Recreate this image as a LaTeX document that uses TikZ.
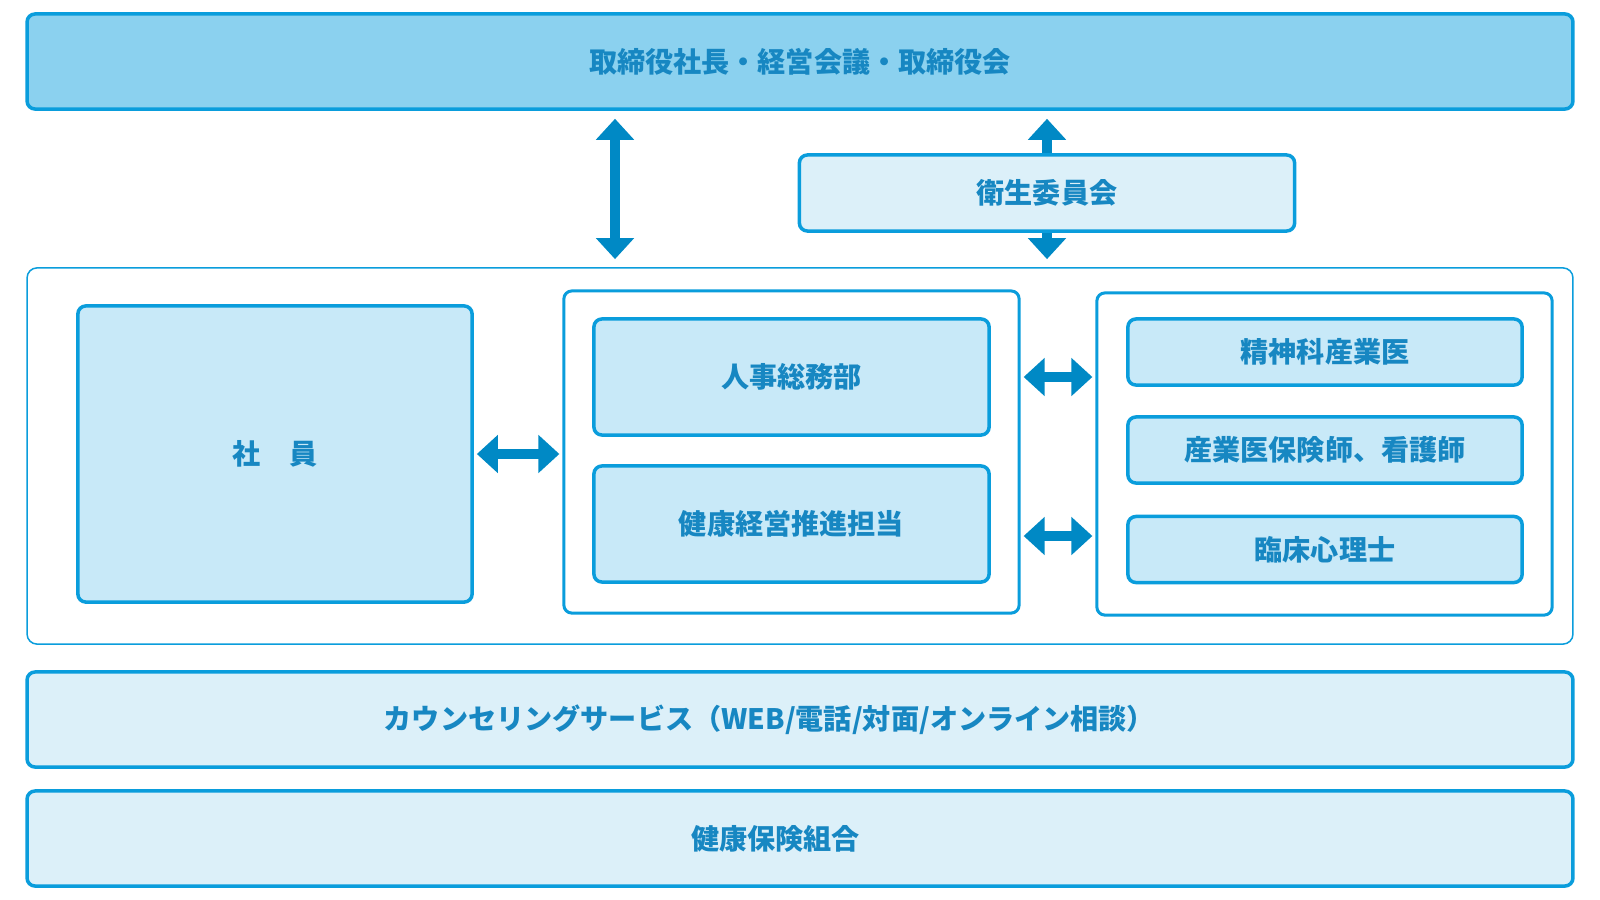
\documentclass[tikz,border=0pt]{standalone}
\usepackage{fontspec}
\setmainfont{Noto Sans CJK JP}
\usetikzlibrary{arrows.meta,backgrounds}
\definecolor{linecol}{HTML}{0A9DDC}
\definecolor{arrowcol}{HTML}{0089C5}
\definecolor{textcol}{HTML}{1787C2}
\definecolor{topfill}{HTML}{8BD1EF}
\definecolor{innerfill}{HTML}{C8E9F8}
\definecolor{lightfill}{HTML}{DCF0F9}

\begin{document}
\begin{tikzpicture}[x=0.01cm,y=-0.01cm,
  box/.style={draw=linecol,line width=0.035cm,rounded corners=0.08cm,
    text=textcol,font=\fontsize{8}{10}\selectfont\bfseries,inner sep=0pt},
  frame/.style={draw=linecol,line width=0.03cm,rounded corners=0.08cm,fill=white},
  wide/.style={box,minimum width=15.45cm,minimum height=0.95cm},
  unit/.style={box,fill=innerfill,minimum width=3.95cm,minimum height=1.16cm},
  staff/.style={box,fill=innerfill,minimum width=3.94cm,minimum height=0.66cm},
  bigarrow/.style={draw=arrowcol,line width=0.1cm,
    {Triangle[width=0.37cm,length=0.21cm]}-{Triangle[width=0.37cm,length=0.21cm]}}]
\useasboundingbox (0,0) rectangle (1600,900);

\node[wide,fill=topfill] (board) at (800,61.5) {取締役社長・経営会議・取締役会};
\node[box,fill=lightfill,minimum width=4.95cm,minimum height=0.76cm] (eisei) at (1047,193) {衛生委員会};

\node[draw=linecol,line width=0.015cm,rounded corners=0.1cm,minimum width=15.45cm,minimum height=3.76cm] (company) at (800,456) {};
\node[box,fill=innerfill,minimum width=3.94cm,minimum height=2.96cm] (shain) at (275,454) {社　員};

\node[frame,minimum width=4.55cm,minimum height=3.22cm] (dept) at (791.5,452) {};
\node[unit] (jinji) at (791.5,377) {人事総務部};
\node[unit] (kenko) at (791.5,524) {健康経営推進担当};

\node[frame,minimum width=4.55cm,minimum height=3.22cm] (medic) at (1324.5,454) {};
\node[staff] (seishin) at (1325,352) {精神科産業医};
\node[staff] (sangyo) at (1325,450) {産業医保険師、看護師};
\node[staff] (rinsho) at (1325,549.5) {臨床心理士};

\node[wide,fill=lightfill] (counsel) at (800,719.5) {カウンセリングサービス（WEB/電話/対面/オンライン相談）\rule{0.61cm}{0pt}};
\node[wide,fill=lightfill] (kenpo) at (800,838.5) {健康保険組合\rule{0.49cm}{0pt}};

\coordinate (link1) at (615,0);
\coordinate (link2) at (0,536);
\draw[bigarrow,shorten <=0.08cm,shorten >=0.08cm] (board.south -| link1) -- (company.north -| link1);
\begin{scope}[on background layer]
\draw[bigarrow,shorten <=0.08cm,shorten >=0.08cm] (board.south -| eisei.north) -- (company.north -| eisei.south);
\end{scope}
\draw[bigarrow,shorten <=0.03cm,shorten >=0.03cm] (shain.east) -- (dept.west |- shain.east);
\draw[bigarrow,shorten <=0.03cm,shorten >=0.03cm] (dept.east |- jinji.east) -- (medic.west |- jinji.east);
\draw[bigarrow,shorten <=0.03cm,shorten >=0.03cm] (dept.east |- link2) -- (medic.west |- link2);
\end{tikzpicture}
\end{document}
